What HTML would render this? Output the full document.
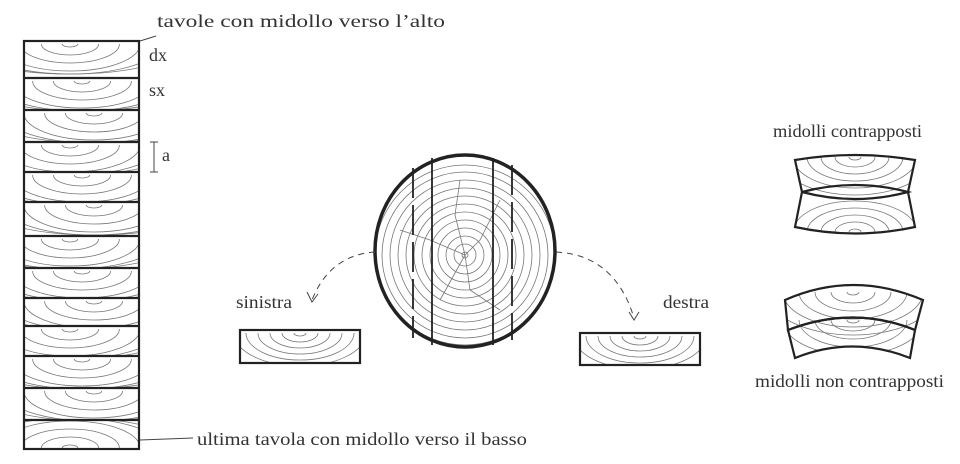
<!DOCTYPE html>
<html><head><meta charset="utf-8"><style>
html,body{margin:0;padding:0;background:#fff;width:960px;height:464px;overflow:hidden}
svg{display:block;position:absolute;left:0;top:0}
text{font-family:"Liberation Serif",serif;font-size:18px;fill:#333}
</style></head><body>
<svg id="s" width="960" height="464" viewBox="0 0 960 464" xmlns="http://www.w3.org/2000/svg">
<defs>
<clipPath id="col"><rect x="25" y="42" width="113" height="406"/></clipPath>
<clipPath id="log"><ellipse cx="465" cy="251" rx="89" ry="95"/></clipPath>
<clipPath id="b1"><rect x="241" y="331" width="118" height="31"/></clipPath>
<clipPath id="b2"><rect x="581" y="334" width="118" height="30"/></clipPath>
<clipPath id="m1"><path d="M795,160 Q855,150 915,160 L908,192 L915,227 Q855,240 795,227 L802,192 Z"/></clipPath>
<clipPath id="m2"><path d="M785,300 Q853,270 923,300 L915,330 L910,358 Q852,335 795,358 L788,330 Z"/></clipPath>
</defs>
<g id="grain" fill="none" stroke="#777" stroke-width="0.8"></g>
<g fill="none" stroke="#222" stroke-width="2.2">
<rect x="24" y="41" width="115" height="408"/>
<path d="M24,78H139M24,110H139M24,142H139M24,172H139M24,202H139M24,236H139M24,268H139M24,298H139M24,326H139M24,356H139M24,388H139M24,420H139"/>
<ellipse cx="465" cy="251" rx="90" ry="96" stroke-width="3.5"/>
<rect x="240" y="330" width="120" height="33"/>
<rect x="580" y="333" width="120" height="32"/>
<path d="M795,160 Q855,150 915,160 L908,192 L915,227 Q855,240 795,227 L802,192 Z"/>
<path d="M802,192 Q855,178 908,192 Q855,206 802,192"/>
<path d="M785,300 Q853,270 923,300 L915,330 Q853,305 788,330 Z"/>
<path d="M788,330 Q853,305 915,330 L910,358 Q852,335 795,358 Z"/>
</g>
<g fill="none" stroke="#222" stroke-width="1.8">
<path d="M413,168V338M512,165V340" stroke-dasharray="30 7"/>
<path d="M432,158V345M493,158V345"/>
</g>
<g fill="none" stroke="#444" stroke-width="1">
<path d="M140,41 L156,36"/><path d="M140,440 L193,438"/>
<path d="M154,142V172M150,142H158M150,172H158"/>
<path d="M375,252 Q330,255 312,300" stroke-dasharray="6 5"/>
<path d="M307,292 L312,302 L318,294"/>
<path d="M556,252 Q615,255 634,318" stroke-dasharray="6 5"/>
<path d="M629,312 L634,320 L639,312"/>
</g>
<text x="157" y="27" textLength="288" lengthAdjust="spacingAndGlyphs">tavole con midollo verso l’alto</text>
<text x="149" y="61">dx</text>
<text x="149" y="96">sx</text>
<text x="162" y="161">a</text>
<text x="236" y="308" textLength="56" lengthAdjust="spacingAndGlyphs">sinistra</text>
<text x="663" y="308" textLength="46" lengthAdjust="spacingAndGlyphs">destra</text>
<text x="773" y="137" textLength="149" lengthAdjust="spacingAndGlyphs">midolli contrapposti</text>
<text x="755" y="387" textLength="189" lengthAdjust="spacingAndGlyphs">midolli non contrapposti</text>
<text x="197" y="445" textLength="330" lengthAdjust="spacingAndGlyphs">ultima tavola con midollo verso il basso</text>
</svg>
<script>
var g=document.getElementById('grain'),ns="http://www.w3.org/2000/svg";
function half(parent,cx,cy,rx,ry,down){var p=document.createElementNS(ns,'path');var s=down?1:0;
p.setAttribute('d','M'+(cx-rx)+','+cy+' A'+rx+','+ry+' 0 0 '+(down?0:1)+' '+(cx+rx)+','+cy);parent.appendChild(p);return p;}
function arcs(clip,cx,cy,n,step,r0,down){var gg=document.createElementNS(ns,'g');gg.setAttribute('clip-path','url(#'+clip+')');
for(var i=0;i<n;i++){var r=r0+i*step;half(gg,cx,cy,r*2,r,down);}g.appendChild(gg);}
var b=[41,78,110,142,172,202,236,268,298,326,356,388,420,449];
var g2=document.createElementNS(ns,'g');g2.setAttribute('clip-path','url(#col)');g.appendChild(g2);
for(var k=0;k<b.length-1;k++){var cp=document.createElementNS(ns,'clipPath');cp.id='bb'+k;var rr=document.createElementNS(ns,'rect');rr.setAttribute('x',25);rr.setAttribute('y',b[k]+1);rr.setAttribute('width',113);rr.setAttribute('height',b[k+1]-b[k]-2);cp.appendChild(rr);document.querySelector('defs').appendChild(cp);
var up=(k==b.length-2);var cy=up?b[k+1]-1:b[k]+3;var cx=70+(k%3)*12;
var gg=document.createElementNS(ns,'g');gg.setAttribute('clip-path','url(#bb'+k+')');g2.appendChild(gg);
for(var i=0;i<6;i++){var r=3+i*8;half(gg,cx,cy,r*2.6,Math.min(r,30),!up);}}
var lg=document.createElementNS(ns,'g');lg.setAttribute('clip-path','url(#log)');g.appendChild(lg);
for(var i=0;i<12;i++){var r=3+i*8;var e=document.createElementNS(ns,'circle');e.setAttribute('cx',465);e.setAttribute('cy',255);e.setAttribute('r',Math.min(r,90));lg.appendChild(e);}
var cr=document.createElementNS(ns,'path');cr.setAttribute('d','M465,255 L440,300 M465,255 L480,240 L500,200 M465,255 L430,240 L400,230 M465,255 L470,290 L500,310 M465,255 L455,215 L460,180');lg.appendChild(cr);
arcs('b1',300,333,6,6,3,true);arcs('b2',640,336,6,6,3,true);
arcs('m1',855,157,6,7,3,true);arcs('m1',855,232,5,7,3,false);
arcs('m2',853,292,6,8,3,true);arcs('m2',853,320,5,8,3,true);
</script>
</body></html>
